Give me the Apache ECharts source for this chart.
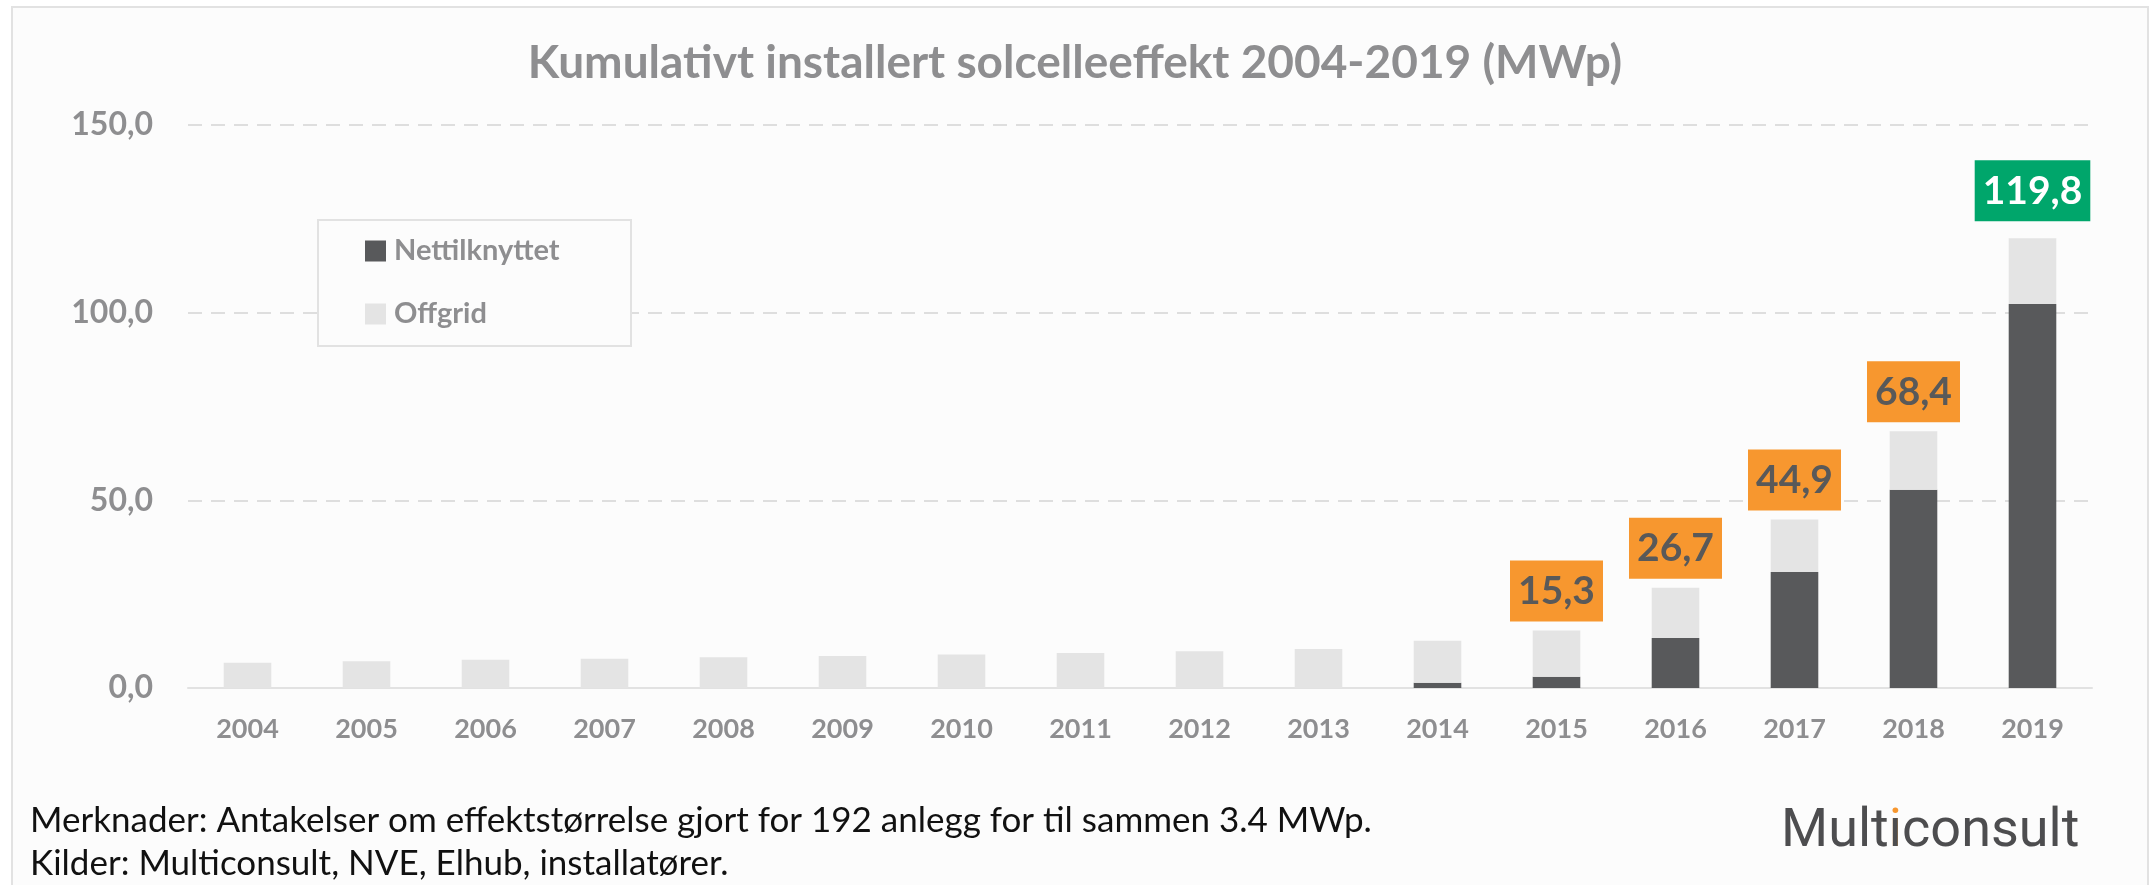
<!DOCTYPE html>
<html>
<head>
<meta charset="utf-8">
<script src="https://cdn.jsdelivr.net/npm/echarts@6/dist/echarts.min.js"></script>
<style>
  html, body { margin: 0; padding: 0; background: #ffffff; }
  #chart { width: 2150px; height: 885px; }
</style>
</head>
<body>
<div id="chart"></div>
<script>
const years = ["2004", "2005", "2006", "2007", "2008", "2009", "2010", "2011",
  "2012", "2013", "2014", "2015", "2016", "2017", "2018", "2019"];
const nettilknyttet = [0, 0, 0, 0, 0, 0, 0, 0, 0, 0, 1.4, 3.0, 13.3, 30.9, 52.8, 102.3];
const offgrid = [6.7, 7.1, 7.5, 7.8, 8.2, 8.5, 8.9, 9.3, 9.8, 10.4, 11.2, 12.3, 13.4, 14.0, 15.6, 17.5];
// totals written in boxes above the last five bars
const totalLabels = [null, null, null, null, null, null, null, null, null, null, null,
  15.3, 26.7, 44.9, 68.4, 119.8];
const yTicks = [0, 50, 100, 150];

const grey = "#8E8E90";
const fmt = (v) => v.toFixed(1).replace(".", ",");

const chart = echarts.init(document.getElementById("chart"));

const offgridData = offgrid.map((v, i) => {
  const t = totalLabels[i];
  if (t == null) return v;
  const last = i === years.length - 1;
  return {
    value: v,
    label: {
      show: true,
      position: "top",
      distance: last ? 17 : 9,
      formatter: fmt(t),
      fontFamily: "Lato",
      fontWeight: "bold",
      fontSize: 39,
      lineHeight: 38,
      color: last ? "#ffffff" : "#595959",
      backgroundColor: last ? "#00A66B" : "#F7972F",
      padding: [12, 8, 11, 8],
    },
  };
});

const logoFont = "bold 54px Roboto";

const option = {
  backgroundColor: "#ffffff",
  animation: false,
  graphic: [
    {
      type: "rect",
      z: -10,
      shape: { x: 12, y: 7, width: 2136, height: 890 },
      style: { fill: "#FCFCFC", stroke: "#E2E2E2", lineWidth: 2 },
    },
    // legend frame
    {
      type: "rect",
      z: 3,
      shape: { x: 318, y: 220, width: 313, height: 126 },
      style: { fill: "#FCFCFC", stroke: "#E2E2E2", lineWidth: 2 },
    },
    {
      type: "text",
      x: 30, y: 821,
      style: {
        text: "Merknader: Antakelser om effektstørrelse gjort for 192 anlegg for til sammen 3.4 MWp.",
        font: "35px Lato", fill: "#111111", textVerticalAlign: "middle",
      },
    },
    {
      type: "text",
      x: 30, y: 864,
      style: {
        text: "Kilder: Multiconsult, NVE, Elhub, installatører.",
        font: "35px Lato", fill: "#111111", textVerticalAlign: "middle",
      },
    },
    // logo: orange "i" underneath, dotless grey text on top keeps only the dot orange
    {
      type: "text",
      z: 5,
      x: 1781, y: 832,
      style: {
        text: "{h|Mult}{o|i}",
        textVerticalAlign: "middle",
        rich: {
          h: { font: "54px Roboto", fill: "rgba(0,0,0,0)" },
          o: { font: "54px Roboto", fill: "#F7972F" },
        },
      },
    },
    {
      type: "text",
      z: 6,
      x: 1781, y: 832,
      style: {
        text: "{g|Mult\u0131consult}",
        textVerticalAlign: "middle",
        rich: {
          g: { font: "54px Roboto", fill: "#4D4D4F" },
        },
      },
    },
  ],
  title: {
    text: "Kumulativt installert solcelleeffekt 2004-2019 (MWp)",
    left: "center",
    top: 35,
    textStyle: {
      fontFamily: "Lato",
      fontWeight: "bold",
      fontSize: 46,
      color: grey,
    },
  },
  legend: {
    orient: "vertical",
    left: 318,
    top: 220,
    z: 4,
    padding: [16, 0, 16, 47],
    itemWidth: 21,
    itemHeight: 21,
    itemGap: 33,
    icon: "rect",
    textStyle: {
      fontFamily: "Lato",
      fontWeight: "bold",
      fontSize: 29,
      lineHeight: 30,
      color: grey,
      padding: [0, 0, 0, 3],
    },
    data: ["Nettilknyttet", "Offgrid"],
  },
  grid: { left: 188, right: 58, top: 125, bottom: 197 },
  xAxis: {
    type: "category",
    data: years,
    axisTick: { show: false },
    axisLine: { lineStyle: { color: "#E2E2E2", width: 2 } },
    axisLabel: {
      margin: 28,
      fontFamily: "Lato",
      fontWeight: "bold",
      fontSize: 27,
      color: grey,
    },
  },
  yAxis: {
    type: "value",
    min: yTicks[0],
    max: yTicks[yTicks.length - 1],
    interval: yTicks[1] - yTicks[0],
    axisLine: { show: false },
    axisTick: { show: false },
    axisLabel: {
      margin: 35,
      fontFamily: "Lato",
      fontWeight: "bold",
      fontSize: 32,
      color: grey,
      formatter: (v) => fmt(v),
    },
    splitLine: {
      lineStyle: { color: "#DEDEDE", width: 2, type: [14, 9] },
    },
  },
  series: [
    {
      name: "Nettilknyttet",
      type: "bar",
      stack: "total",
      barWidth: "40%",
      itemStyle: { color: "#58595B" },
      data: nettilknyttet,
    },
    {
      name: "Offgrid",
      type: "bar",
      stack: "total",
      barWidth: "40%",
      itemStyle: { color: "#E4E4E4" },
      data: offgridData,
    },
  ],
};

chart.setOption(option);
</script>
</body>
</html>
